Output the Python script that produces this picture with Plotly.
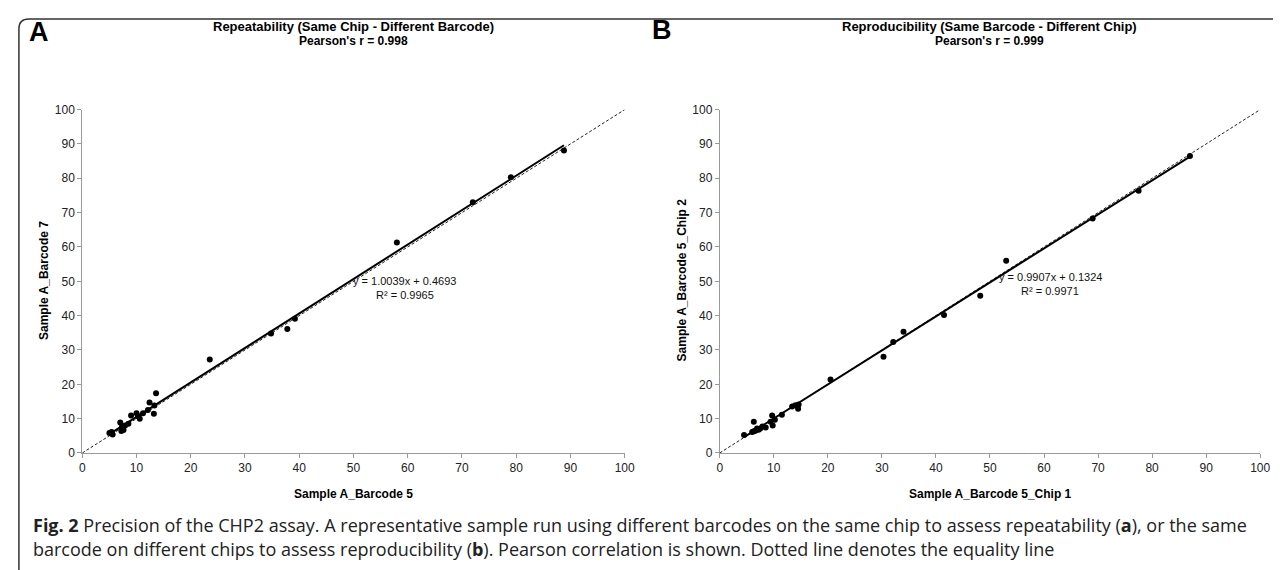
import plotly.graph_objects as go

W, H = 1281, 570

# Panel A data: Sample A_Barcode 5 (x) vs Sample A_Barcode 7 (y)
a_x = [5.0, 5.6, 5.4, 7.0, 7.3, 7.6, 7.9, 7.2, 8.5, 9.0, 10.0, 10.3, 10.6, 11.2, 12.1, 12.4, 13.2, 13.3, 13.6,
       23.5, 34.8, 37.8, 39.2, 58.0, 72.0, 79.0, 88.8]
a_y = [5.8, 5.4, 6.1, 8.9, 7.6, 6.7, 8.0, 6.4, 8.5, 10.9, 11.6, 10.7, 10.0, 11.6, 12.5, 14.7, 11.4, 13.8, 17.4,
       27.2, 34.8, 36.1, 39.1, 61.3, 73.0, 80.3, 88.1]
a_slope, a_intercept = 1.0039, 0.4693

# Panel B data: Sample A_Barcode 5_Chip 1 (x) vs Sample A_Barcode 5_Chip 2 (y)
b_x = [4.5, 6.3, 6.0, 6.6, 6.9, 7.5, 7.9, 6.3, 7.2, 8.5, 9.4, 9.7, 9.8, 10.2, 11.5, 13.4, 14.0, 14.5, 14.6,
       20.5, 30.3, 32.1, 34.0, 41.5, 48.2, 53.0, 69.0, 77.5, 87.0]
b_y = [5.2, 9.1, 6.1, 6.5, 7.1, 7.1, 7.7, 6.3, 6.8, 7.4, 9.1, 10.9, 8.0, 9.7, 11.1, 13.5, 13.9, 12.9, 14.1,
       21.4, 28.0, 32.3, 35.3, 40.2, 45.8, 56.0, 68.3, 76.4, 86.5]
b_slope, b_intercept = 0.9907, 0.1324

ticks = list(range(0, 101, 10))

def px(x):
    return x / W

def py(y):
    return 1 - y / H

fig = go.Figure()

panels = [
    dict(x=a_x, y=a_y, m=a_slope, c=a_intercept, xa="x", ya="y"),
    dict(x=b_x, y=b_y, m=b_slope, c=b_intercept, xa="x2", ya="y2"),
]
for p in panels:
    fig.add_trace(go.Scatter(x=[0, 100], y=[0, 100], mode="lines",
                             line=dict(color="#222", width=1, dash="3px,2px"),
                             xaxis=p["xa"], yaxis=p["ya"], showlegend=False, hoverinfo="skip"))
    x0, x1 = min(p["x"]), max(p["x"])
    fig.add_trace(go.Scatter(x=[x0, x1], y=[p["m"] * x0 + p["c"], p["m"] * x1 + p["c"]], mode="lines",
                             line=dict(color="black", width=2),
                             xaxis=p["xa"], yaxis=p["ya"], showlegend=False, hoverinfo="skip"))
    fig.add_trace(go.Scatter(x=p["x"], y=p["y"], mode="markers",
                             marker=dict(color="black", size=6),
                             xaxis=p["xa"], yaxis=p["ya"], showlegend=False, cliponaxis=False))

ydom = [py(449), py(97)]
axis_common = dict(range=[0, 100], tickvals=ticks, showgrid=False, zeroline=False,
                   showline=True, linecolor="#9a9a9a", linewidth=1,
                   ticks="outside", ticklen=4, tickcolor="#9a9a9a",
                   tickfont=dict(family="Liberation Sans, Arial", size=12, color="#222"))

fig.update_layout(
    width=W, height=H, margin=dict(l=0, r=0, t=0, b=0),
    paper_bgcolor="white", plot_bgcolor="white",
    xaxis=dict(domain=[px(72), px(620)], anchor="y", **axis_common),
    yaxis=dict(domain=ydom, anchor="x", **axis_common),
    xaxis2=dict(domain=[px(716), px(1262)], anchor="y2", **axis_common),
    yaxis2=dict(domain=ydom, anchor="x2", **axis_common),
)

bold = dict(family="Liberation Sans, Arial", size=13, color="black")
ann = []
def text(x, y, t, font, **kw):
    ann.append(dict(x=px(x), y=py(y), xref="paper", yref="paper", text=t, showarrow=False,
                    xanchor="center", yanchor="middle", font=font, **kw))

text(28, 17, "<b>A</b>", dict(family="Liberation Sans, Arial", size=27, color="black"))
text(658, 15, "<b>B</b>", dict(family="Liberation Sans, Arial", size=27, color="black"))
text(346, 12, "<b>Repeatability (Same Chip - Different Barcode)</b>", bold)
text(346, 27, "<b>Pearson's r = 0.998</b>", dict(bold, size=12))
text(989, 12, "<b>Reproducibility (Same Barcode - Different Chip)</b>", bold)
text(989, 27, "<b>Pearson's r = 0.999</b>", dict(bold, size=12))
reg = dict(family="Liberation Sans, Arial", size=11, color="#111")
text(398, 273, "y = 1.0039x + 0.4693", reg)
text(398, 287, "R² = 0.9965", reg)
text(1050, 269, "y = 0.9907x + 0.1324", reg)
text(1050, 283, "R² = 0.9971", reg)
text(346, 491, "<b>Sample A_Barcode 5</b>", dict(bold, size=12))
text(990, 491, "<b>Sample A_Barcode 5_Chip 1</b>", dict(bold, size=12))
text(34, 272, "<b>Sample A_Barcode 7</b>", dict(bold, size=12), textangle=-90)
text(678, 272, "<b>Sample A_Barcode 5_Chip 2</b>", dict(bold, size=12), textangle=-90)
cap = dict(family="Open Sans", size=18, color="#222")
ann.append(dict(x=px(20), y=py(523), xref="paper", yref="paper", xanchor="left", yanchor="middle", showarrow=False,
                text="<b>Fig. 2</b> Precision of the CHP2 assay. A representative sample run using different barcodes on the same chip to assess repeatability (<b>a</b>), or the same",
                font=cap))
ann.append(dict(x=px(20), y=py(547), xref="paper", yref="paper", xanchor="left", yanchor="middle", showarrow=False,
                text="barcode on different chips to assess reproducibility (<b>b</b>). Pearson correlation is shown. Dotted line denotes the equality line",
                font=cap))
fig.update_layout(annotations=ann)

r = 10
fig.add_shape(type="path", xref="paper", yref="paper",
              path=f"M {px(8)},{py(H + 5)} L {px(8)},{py(4 + r)} Q {px(8)},{py(4)} {px(8 + r)},{py(4)} L {px(W + 5)},{py(4)}",
              line=dict(color="#333", width=1.5))

fig.write_html("out.html")
